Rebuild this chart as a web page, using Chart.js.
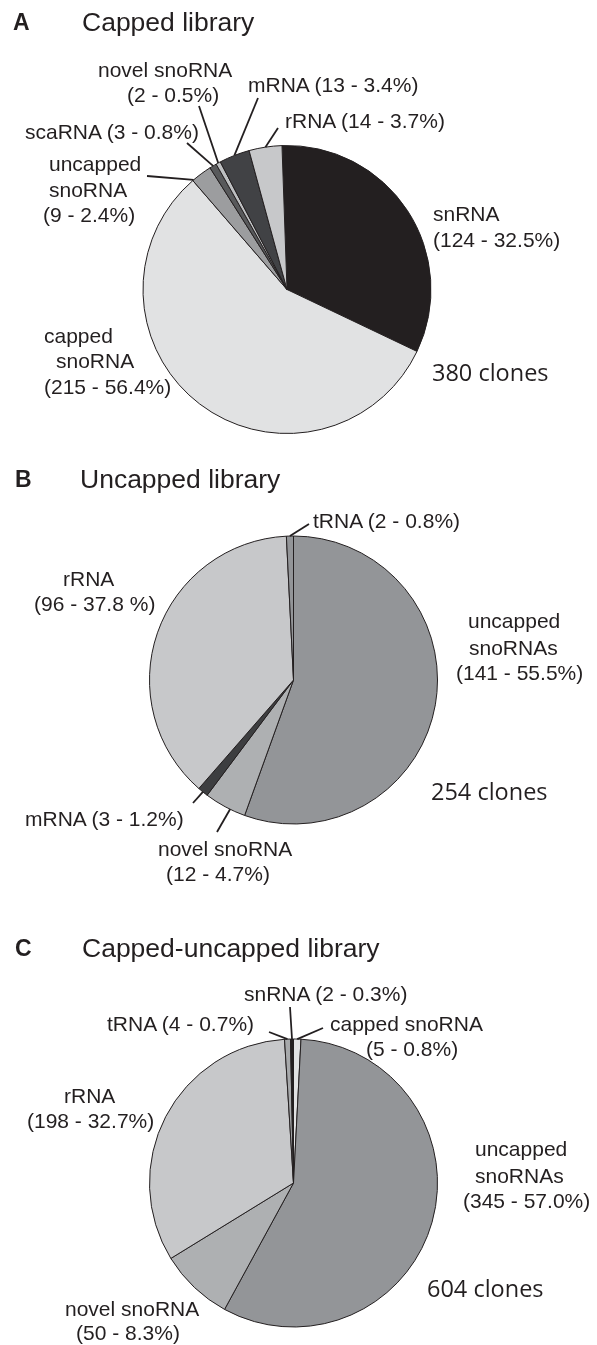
<!DOCTYPE html>
<html><head><meta charset="utf-8">
<script src="https://cdn.jsdelivr.net/npm/chart.js@4.4.1/dist/chart.umd.min.js"></script>
<style>
html,body{margin:0;padding:0;background:#fff;}
body{width:597px;height:1345px;position:relative;overflow:hidden;font-family:"Liberation Sans",Arial,sans-serif;color:#231f20;}
canvas{position:absolute;left:0;}
.t{position:absolute;font-size:21px;line-height:1;white-space:nowrap;transform:translateY(-50%);}
.title{font-size:26.5px;}
.letter{font-size:23px;font-weight:bold;}
.clones{font-family:"Open Sans",sans-serif;font-size:23.5px;}
</style></head><body>
<canvas id="cA" width="597" height="450" style="top:0px"></canvas>
<canvas id="cB" width="597" height="450" style="top:450px"></canvas>
<canvas id="cC" width="597" height="445" style="top:900px"></canvas>
<div id="texts"></div>
<script>
// ---------- DATA ----------
const panelLetters = ["A", "B", "C"];
const panelTitles = ["Capped library", "Uncapped library", "Capped-uncapped library"];
const totalClones = [380, 254, 604];

const cappedCategories = ["snRNA", "capped snoRNA", "uncapped snoRNA", "scaRNA", "novel snoRNA", "mRNA", "rRNA"];
const cappedCounts = [124, 215, 9, 3, 2, 13, 14];
const cappedPercents = ["32.5%", "56.4%", "2.4%", "0.8%", "0.5%", "3.4%", "3.7%"];

const uncappedCategories = ["uncapped snoRNAs", "novel snoRNA", "mRNA", "rRNA", "tRNA"];
const uncappedCounts = [141, 12, 3, 96, 2];
const uncappedPercents = ["55.5%", "4.7%", "1.2%", "37.8 %", "0.8%"];

const mixedCategories = ["capped snoRNA", "uncapped snoRNAs", "novel snoRNA", "rRNA", "tRNA", "snRNA"];
const mixedCounts = [5, 345, 50, 198, 4, 2];
const mixedPercents = ["0.8%", "57.0%", "8.3%", "32.7%", "0.7%", "0.3%"];

// ---------- STYLE / LAYOUT ----------
const INK = "#231f20";
const cappedColors = ["#231f20", "#e1e2e3", "#9c9d9f", "#58595b", "#bdbfc1", "#414245", "#c7c8ca"];
const uncappedColors = ["#939598", "#aeb0b2", "#3d3e40", "#c7c8ca", "#939598"];
const mixedColors = ["#e1e2e3", "#939598", "#aeb0b2", "#c7c8ca", "#a7a9ab", "#231f20"];

const panels = [
  {
    canvas: "cA", top: 0, height: 450, cx: 287, cy: 289.5, r: 144, rotation: -2,
    cats: cappedCategories, vals: cappedCounts, pcts: cappedPercents, colors: cappedColors,
    letterPos: [13, 22], titlePos: [82, 22], clonesPos: [432, 373],
    labels: [
      {i: 4, lines: [["novel snoRNA", 98, 69], ["{v}", 127, 94]]},
      {i: 5, lines: [["{n} {v}", 248, 84]]},
      {i: 6, lines: [["{n} {v}", 285, 120]]},
      {i: 3, lines: [["{n} {v}", 25, 131]]},
      {i: 2, lines: [["uncapped", 49, 163], ["snoRNA", 49, 189], ["{v}", 43, 214]]},
      {i: 0, lines: [["{n}", 433, 213], ["{v}", 433, 239]]},
      {i: 1, lines: [["capped", 44, 335], ["snoRNA", 56, 360], ["{v}", 44, 386]]}
    ],
    leaders: [
      {i: 2, f: 0.05, to: [147, 176]},
      {i: 3, f: 0.5, to: [187, 143]},
      {i: 4, f: 0.5, to: [199, 106]},
      {i: 5, f: 0.5, to: [258, 98]},
      {i: 6, f: 0.5, to: [278, 128]}
    ]
  },
  {
    canvas: "cB", top: 450, height: 450, cx: 293.5, cy: 680, r: 144, rotation: 0,
    cats: uncappedCategories, vals: uncappedCounts, pcts: uncappedPercents, colors: uncappedColors,
    letterPos: [15, 479], titlePos: [80, 479], clonesPos: [431, 792],
    labels: [
      {i: 4, lines: [["{n} {v}", 313, 520]]},
      {i: 3, lines: [["{n}", 63, 578], ["{v}", 34, 603]]},
      {i: 0, lines: [["uncapped", 468, 620], ["snoRNAs", 469, 647], ["{v}", 456, 672]]},
      {i: 2, lines: [["{n} {v}", 25, 818]]},
      {i: 1, lines: [["{n}", 158, 848], ["{v}", 166, 873]]}
    ],
    leaders: [
      {i: 4, f: 0.5, to: [309, 524]},
      {i: 2, f: 0.5, to: [193, 803]},
      {i: 1, f: 0.37, to: [217, 832]}
    ]
  },
  {
    canvas: "cC", top: 900, height: 445, cx: 293.5, cy: 1183, r: 144, rotation: 0,
    cats: mixedCategories, vals: mixedCounts, pcts: mixedPercents, colors: mixedColors,
    letterPos: [15, 948], titlePos: [82, 948], clonesPos: [427, 1289],
    labels: [
      {i: 5, lines: [["{n} {v}", 244, 993]]},
      {i: 4, lines: [["{n} {v}", 107, 1023]]},
      {i: 0, lines: [["{n}", 330, 1023], ["{v}", 366, 1048]]},
      {i: 3, lines: [["{n}", 64, 1095], ["{v}", 27, 1120]]},
      {i: 1, lines: [["uncapped", 475, 1148], ["snoRNAs", 475, 1175], ["{v}", 463, 1200]]},
      {i: 2, lines: [["{n}", 65, 1308], ["{v}", 76, 1332]]}
    ],
    leaders: [
      {i: 4, f: 0.5, to: [269, 1032]},
      {i: 5, f: 0.5, to: [290, 1007]},
      {i: 0, f: 0.5, to: [323, 1028]}
    ]
  }
];

const texts = document.getElementById("texts");
function addText(str, x, y, cls) {
  const d = document.createElement("div");
  d.className = "t " + (cls || "");
  d.textContent = str;
  d.style.left = x + "px";
  d.style.top = y + "px";
  texts.appendChild(d);
}

const leaderPlugin = {
  id: "leaders",
  afterDatasetsDraw(chart, args, opts) {
    const p = opts.panel;
    const meta = chart.getDatasetMeta(0);
    const ctx = chart.ctx;
    ctx.save();
    ctx.strokeStyle = INK;
    ctx.lineWidth = 1.8;
    ctx.lineCap = "butt";
    p.leaders.forEach(l => {
      const arc = meta.data[l.i];
      const a = arc.startAngle + l.f * (arc.endAngle - arc.startAngle);
      const sx = arc.x + arc.outerRadius * Math.cos(a);
      const sy = arc.y + arc.outerRadius * Math.sin(a);
      ctx.beginPath();
      ctx.moveTo(sx, sy);
      ctx.lineTo(l.to[0], l.to[1] - p.top);
      ctx.stroke();
    });
    ctx.restore();
  }
};

panels.forEach((p, k) => {
  const W = 597;
  const half = p.r + 0.5;
  const padding = {
    left: p.cx - half,
    right: W - (p.cx + half),
    top: (p.cy - p.top) - half,
    bottom: p.height - ((p.cy - p.top) + half)
  };
  new Chart(document.getElementById(p.canvas), {
    type: "pie",
    data: {
      labels: p.cats,
      datasets: [{
        data: p.vals,
        backgroundColor: p.colors,
        borderColor: INK,
        borderWidth: 1,
        hoverOffset: 0,
        hoverBorderWidth: 1
      }]
    },
    options: {
      responsive: false,
      animation: false,
      devicePixelRatio: 1,
      rotation: p.rotation,
      layout: {padding: padding},
      plugins: {
        legend: {display: false},
        tooltip: {enabled: false},
        leaders: {panel: p}
      },
      events: []
    },
    plugins: [leaderPlugin]
  });

  addText(panelLetters[k], p.letterPos[0], p.letterPos[1], "letter");
  addText(panelTitles[k], p.titlePos[0], p.titlePos[1], "title");
  addText(totalClones[k] + " clones", p.clonesPos[0], p.clonesPos[1], "clones");
  p.labels.forEach(lb => {
    const name = p.cats[lb.i];
    const v = "(" + p.vals[lb.i] + " - " + p.pcts[lb.i] + ")";
    lb.lines.forEach(([tpl, x, y]) => {
      addText(tpl.replace("{n}", name).replace("{v}", v), x, y);
    });
  });
});
</script>
</body></html>
